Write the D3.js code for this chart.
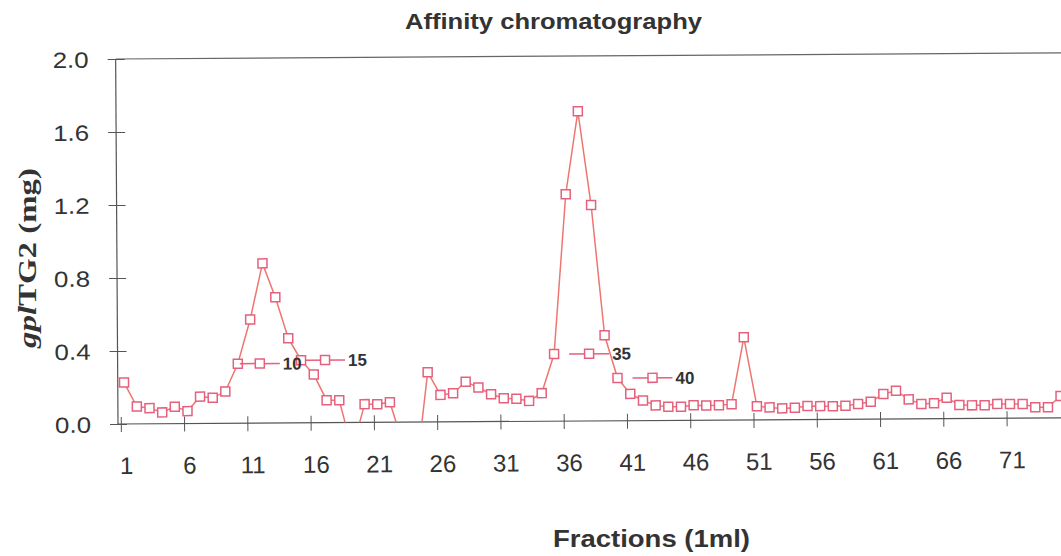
<!DOCTYPE html>
<html>
<head>
<meta charset="utf-8">
<script src="https://cdn.jsdelivr.net/npm/d3@7"></script>
<style>
  body { margin: 0; background: #fff; }
  svg { display: block; font-family: "Liberation Sans", Arial, sans-serif; }
</style>
</head>
<body>
<div id="chart"></div>
<script>
// fractions (1 ml each) and gpITG2 amount in mg
var fractions = [1,2,3,4,5,6,7,8,9,10,11,12,13,14,15,16,17,18,19,20,
  21,22,23,24,25,26,27,28,29,30,31,32,33,34,35,36,37,38,39,40,
  41,42,43,44,45,46,47,48,49,50,51,52,53,54,55,56,57,58,59,60,
  61,62,63,64,65,66,67,68,69,70,71,72,73,74,75,76];
var amounts = [0.227,0.095,0.086,0.062,0.093,0.068,0.147,0.140,0.174,0.326,
  0.568,0.875,0.689,0.464,0.343,0.264,0.123,0.122,-0.15,0.100,
  0.099,0.110,-0.12,-0.30,0.273,0.148,0.157,0.219,0.187,0.150,
  0.127,0.124,0.112,0.154,0.368,1.243,1.697,1.183,0.469,0.234,
  0.147,0.110,0.083,0.075,0.075,0.082,0.081,0.081,0.087,0.453,
  0.075,0.068,0.062,0.065,0.074,0.073,0.072,0.074,0.083,0.095,
  0.137,0.155,0.107,0.081,0.085,0.115,0.074,0.072,0.072,0.079,
  0.078,0.078,0.059,0.059,0.120,0.200];
var xTicks = [1,6,11,16,21,26,31,36,41,46,51,56,61,66,71];
var yTicks = [0,0.4,0.8,1.2,1.6,2.0];
var labelled = [10,15,35,40];

var width = 1061, height = 556;
var lineColor = '#ee7670', markColor = '#e5607c', textColor = '#333';

var svg = d3.select('#chart').append('svg')
  .attr('width', width)
  .attr('height', height);

var x = d3.scaleLinear().domain([1, 75]).range([124.3, 1060.7]);
var y = d3.scaleLinear().domain([0, 2]).range([424, 59]);
var axisX = 118;

// title and axis titles
svg.append('text')
  .attr('x', 553.5).attr('y', 29)
  .attr('text-anchor', 'middle')
  .attr('textLength', 297).attr('lengthAdjust', 'spacingAndGlyphs')
  .style('font-size', '22px').style('font-weight', 'bold').style('fill', textColor)
  .text('Affinity chromatography');

svg.append('text')
  .attr('x', 651.5).attr('y', 547)
  .attr('text-anchor', 'middle')
  .attr('textLength', 197).attr('lengthAdjust', 'spacingAndGlyphs')
  .style('font-size', '23px').style('font-weight', 'bold').style('fill', textColor)
  .text('Fractions (1ml)');

var ylab = svg.append('text')
  .attr('transform', 'translate(36,258) rotate(-90)')
  .attr('text-anchor', 'middle')
  .attr('textLength', 180).attr('lengthAdjust', 'spacingAndGlyphs')
  .style('font-family', '"Liberation Serif", "Times New Roman", serif')
  .style('font-size', '26px').style('font-weight', 'bold').style('fill', textColor);
ylab.append('tspan').style('font-style', 'italic').text('gpl');
ylab.append('tspan').text('TG2 (mg)');

// the scan is slightly tilted, so the plot is too
var plot = svg.append('g').attr('transform', 'rotate(-0.37,' + axisX + ',424)');

// frame lines
plot.append('line')
  .attr('x1', axisX).attr('x2', axisX).attr('y1', y(0)).attr('y2', y(2))
  .style('stroke', '#555').style('stroke-width', 1.2);
plot.append('line')
  .attr('x1', axisX).attr('x2', 1100).attr('y1', y(0)).attr('y2', y(0))
  .style('stroke', '#555').style('stroke-width', 1.2);
plot.append('line')
  .attr('x1', axisX).attr('x2', 1100).attr('y1', y(2)).attr('y2', y(2))
  .style('stroke', '#666').style('stroke-width', 1.2);

// y axis
var gy = plot.append('g')
  .attr('transform', 'translate(' + axisX + ',0)')
  .call(d3.axisLeft(y).tickValues(yTicks).tickFormat(d3.format('.1f')).tickSize(8));
gy.select('.domain').remove();
gy.selectAll('.tick line').attr('x1', 9).attr('x2', -8).style('stroke', '#555');
gy.selectAll('.tick text')
  .attr('x', -27).attr('dy', null).attr('y', 8)
  .attr('textLength', 36).attr('lengthAdjust', 'spacingAndGlyphs')
  .style('font-size', '22px').style('fill', textColor)
  .style('font-family', '"Liberation Sans", Arial, sans-serif');

// x axis
var gx = plot.append('g')
  .attr('transform', 'translate(0,' + y(0) + ')')
  .call(d3.axisBottom(x).tickValues(xTicks).tickFormat(d3.format('d')).tickSize(8));
gx.select('.domain').remove();
gx.selectAll('.tick line').attr('x1', -3.5).attr('x2', -3.5).attr('y1', -7).attr('y2', 8)
  .style('stroke', '#555');
gx.selectAll('.tick text')
  .attr('x', 1.5).attr('dy', null).attr('y', 50)
  .style('font-size', '24px').style('fill', textColor)
  .style('font-family', '"Liberation Sans", Arial, sans-serif');

// series
plot.append('clipPath').attr('id', 'clip')
  .append('rect').attr('x', axisX).attr('y', y(2) - 6).attr('width', 1000).attr('height', y(0) - y(2) + 6);

var series = plot.append('g').attr('clip-path', 'url(#clip)');
var pts = fractions.map(function(f, i) { return {f: f, v: amounts[i]}; });

series.append('path')
  .datum(pts)
  .attr('d', d3.line().x(function(d) { return x(d.f); }).y(function(d) { return y(d.v); }))
  .style('fill', 'none').style('stroke', lineColor).style('stroke-width', 1.5);

var ms = 9;
series.selectAll('rect.pt')
  .data(pts.filter(function(d) { return d.v >= 0; }))
  .enter().append('rect')
  .attr('class', 'pt')
  .attr('x', function(d) { return x(d.f) - ms / 2; })
  .attr('y', function(d) { return y(d.v) - ms / 2; })
  .attr('width', ms).attr('height', ms)
  .style('fill', '#fff').style('stroke', markColor).style('stroke-width', 1.5);

// data labels with legend key
var keyStart = {10: 2, 15: 4, 35: 15, 40: 15};
var labels = plot.selectAll('g.lab')
  .data(labelled)
  .enter().append('g')
  .attr('class', 'lab')
  .attr('transform', function(f) {
    return 'translate(' + (x(f) + keyStart[f]) + ',' + y(amounts[fractions.indexOf(f)]) + ')';
  });
labels.append('line')
  .attr('x1', 0).attr('x2', 40).attr('y1', 0).attr('y2', 0)
  .style('stroke', markColor).style('stroke-width', 1.5);
labels.append('rect')
  .attr('x', 20 - ms / 2).attr('y', -ms / 2).attr('width', ms).attr('height', ms)
  .style('fill', '#fff').style('stroke', markColor).style('stroke-width', 1.5);
labels.append('text')
  .attr('x', 43).attr('y', 6)
  .style('font-size', '17px').style('font-weight', 'bold').style('fill', textColor)
  .text(function(f) { return f; });
</script>
</body>
</html>
